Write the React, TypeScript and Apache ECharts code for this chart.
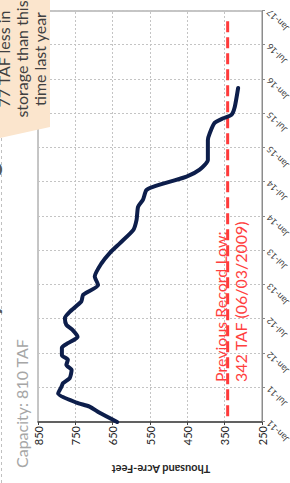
import React, { useEffect, useRef } from "react";
import * as echarts from "echarts";

// ---- data ----
const dateTicks = ["Jan-11", "Jul-11", "Jan-12", "Jul-12", "Jan-13", "Jul-13", "Jan-14", "Jul-14", "Jan-15", "Jul-15", "Jan-16", "Jul-16", "Jan-17"];
// months since Jan-2011
const monthIndex = [0, 1.6, 2.7, 3.4, 5.0, 6.2, 6.8, 7.7, 9.1, 10.0, 10.9, 11.7, 13.0, 13.8, 14.9, 16.1, 17.0, 18.2, 19.3, 21.1, 22.3, 24.0, 25.5, 27.8, 29.6, 31.3, 33.6, 35.4, 37.7, 38.9, 40.6, 41.2, 43.0, 44.2, 45.9, 49.4, 50.6, 52.4, 53.2, 53.8, 55.2, 58.5];
const storageTAF = [638, 685, 712, 747, 796, 787, 783, 765, 760, 774, 770, 786, 786, 770, 744, 757, 774, 778, 765, 734, 729, 689, 698, 680, 658, 631, 595, 586, 582, 569, 560, 542, 452, 417, 395, 395, 390, 377, 354, 332, 323, 314];
const recordLowMonths = [1, 71];
const recordLowTAF = [342, 342];
const storageMin = 250;
const storageMax = 850;
const storageStep = 100;
const monthMax = 72;
const monthStep = 6;

const titleText = "Diamond Valley Lake Storage";
const subtitleText = "Capacity: 810 TAF";
const calloutLines = ["77 TAF less in", "storage than this", "time last year"];
const recordLines = ["Previous Record Low:", "342 TAF (06/03/2009)"];
const axisNameText = "Thousand Acre-Feet";

const FONT = "Lato, 'Open Sans', sans-serif";

export default function App() {
  const ref = useRef<HTMLDivElement>(null);
  useEffect(() => {
    const chart = echarts.init(ref.current as HTMLDivElement, null, { renderer: "svg" });
    const storageData = monthIndex.map((m, i) => [m, storageTAF[i]]);
    const recordData = recordLowMonths.map((m, i) => [m, recordLowTAF[i]]);
    const gridLine = { show: true, lineStyle: { color: "#c4c4c4", width: 1, type: [2, 2] } };
    chart.setOption({
      animation: false,
      backgroundColor: "#ffffff",
      textStyle: { fontFamily: FONT },
      grid: {
        left: 61, right: 11, top: 38, bottom: 28,
        show: true, borderColor: "#8c8c8c", borderWidth: 1,
        outerBoundsMode: "none",
      },
      xAxis: {
        type: "value", min: 0, max: monthMax, interval: monthStep,
        axisLine: { show: true, lineStyle: { color: "#8c8c8c", width: 1 } },
        axisTick: { show: true, length: 3, lineStyle: { color: "#8c8c8c" } },
        axisLabel: {
          rotate: 45, margin: 6, fontSize: 9, color: "#404040", fontFamily: FONT,
          formatter: (v: number) => dateTicks[Math.round(v / monthStep)] ?? "",
        },
        splitLine: gridLine,
      },
      yAxis: {
        type: "value", min: storageMin, max: storageMax, interval: storageStep,
        axisLine: { show: true, lineStyle: { color: "#404040", width: 1.5 } },
        axisTick: { show: true, length: 3, lineStyle: { color: "#404040" } },
        axisLabel: { fontSize: 11, margin: 4, color: "#262626", fontFamily: FONT },
        splitLine: gridLine,
      },
      series: [
        {
          type: "line", name: "Previous Record Low", data: recordData, symbol: "none", z: 2,
          lineStyle: { color: "#ff3b3b", width: 3, type: [11, 5] },
        },
        {
          type: "line", name: "Storage", data: storageData, symbol: "none", smooth: 0.2, z: 3,
          lineStyle: { color: "#0d1e4b", width: 4, cap: "round", join: "round" },
        },
      ],
      graphic: [
        {
          type: "line", z: 50,
          shape: { x1: 0, y1: 1.5, x2: 345, y2: 1.5 },
          style: { stroke: "#c0c0c0", lineWidth: 1, lineDash: [3, 3] },
        },
        {
          type: "text", z: 50, x: 0, y: 1,
          style: {
            text: titleText, fontSize: 26, fontWeight: "bold", fontFamily: FONT, fill: "#595959",
            textAlign: "left", align: "left", textVerticalAlign: "bottom", verticalAlign: "bottom",
          },
        },
        {
          type: "text", z: 50, x: 15, y: 21,
          style: {
            text: subtitleText, fontSize: 16, fontFamily: FONT, fill: "#a6a6a6",
            textAlign: "left", align: "left", textVerticalAlign: "middle", verticalAlign: "middle",
          },
        },
        {
          type: "polygon", z: 100,
          shape: { points: [[345, 0], [483, 0], [483, 50], [356, 50]] },
          style: { fill: "#fbe5cd" },
        },
        {
          type: "text", z: 101, x: 424, y: 21,
          style: {
            text: calloutLines.join("\n"), fontSize: 16, lineHeight: 18, fontFamily: FONT, fill: "#404040",
            textAlign: "center", align: "center", textVerticalAlign: "middle", verticalAlign: "middle",
          },
        },
        {
          type: "text", z: 101, x: 101, y: 230,
          style: {
            text: recordLines.join("\n"), fontSize: 16, lineHeight: 20, fontFamily: FONT, fill: "#ff3f3f",
            textAlign: "left", align: "left", textVerticalAlign: "middle", verticalAlign: "middle",
          },
        },
        {
          type: "text", z: 101, x: 13.5, y: 161, rotation: Math.PI / 2,
          style: {
            text: axisNameText, fontSize: 11, fontWeight: "bold", fontFamily: FONT, fill: "#262626",
            textAlign: "center", align: "center", textVerticalAlign: "middle", verticalAlign: "middle",
          },
        },
      ],
    });
    return () => chart.dispose();
  }, []);
  return (
    <div style={{ position: "fixed", left: 0, top: 0, width: 290, height: 483, overflow: "hidden", background: "#fff" }}>
      <div
        ref={ref}
        style={{
          position: "absolute", left: 0, top: 0, width: 483, height: 290,
          transformOrigin: "0 0", transform: "translateY(483px) rotate(-90deg)",
        }}
      />
    </div>
  );
}
